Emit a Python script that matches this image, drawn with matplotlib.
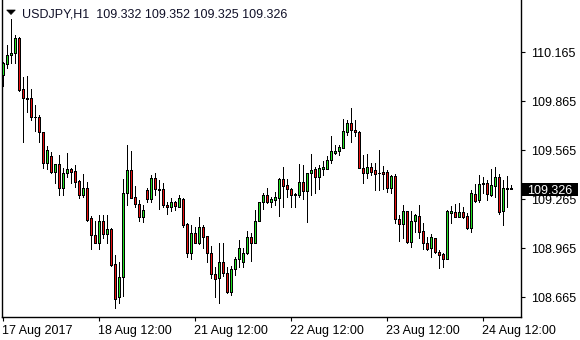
import matplotlib
matplotlib.use("Agg")
import matplotlib.pyplot as plt
from matplotlib.patches import Rectangle, Polygon
import matplotlib.transforms as mtransforms

# USDJPY H1 candles, oldest first
opens = [110.026, 110.091, 110.146, 110.159, 110.251, 109.938, 109.885, 109.883, 109.771, 109.767,
         109.679, 109.489, 109.530, 109.434, 109.479, 109.332, 109.424, 109.448, 109.436, 109.379,
         109.291, 109.332, 109.148, 109.046, 108.995, 109.130, 109.053, 109.081, 108.869, 108.665,
         108.791, 109.302, 109.444, 109.277, 109.234, 109.155, 109.322, 109.265, 109.393, 109.326,
         109.326, 109.230, 109.216, 109.251, 109.220, 109.265, 109.114, 108.934, 109.057, 108.999,
         109.097, 109.040, 108.934, 108.808, 108.781, 108.883, 108.816, 108.700, 108.836, 108.897,
         108.883, 108.938, 109.032, 108.995, 109.134, 109.247, 109.291, 109.251, 109.261, 109.271,
         109.387, 109.353, 109.326, 109.295, 109.291, 109.369, 109.318, 109.424, 109.448, 109.404,
         109.453, 109.453, 109.506, 109.551, 109.563, 109.581, 109.679, 109.730, 109.689, 109.677,
         109.455, 109.428, 109.461, 109.442, 109.426, 109.430, 109.430, 109.332, 109.408, 109.142,
         109.114, 109.191, 109.006, 109.134, 109.165, 109.071, 108.999, 108.965, 109.026, 108.944,
         108.928, 108.897, 109.183, 109.185, 109.159, 109.189, 109.163, 109.091, 109.298, 109.261,
         109.357, 109.363, 109.291, 109.349, 109.400, 109.195, 109.332, 109.332]
highs = [110.108, 110.210, 110.367, 110.271, 110.261, 110.016, 110.020, 109.940, 109.842, 109.781,
         109.679, 109.591, 109.557, 109.481, 109.536, 109.455, 109.546, 109.455, 109.475, 109.383,
         109.420, 109.373, 109.163, 109.134, 109.169, 109.169, 109.169, 109.087, 108.924, 108.883,
         109.387, 109.597, 109.563, 109.347, 109.261, 109.230, 109.332, 109.414, 109.424, 109.383,
         109.367, 109.251, 109.271, 109.255, 109.291, 109.271, 109.118, 109.108, 109.093, 109.159,
         109.108, 109.040, 108.979, 108.853, 108.999, 108.995, 108.849, 108.857, 108.914, 109.016,
         108.965, 109.073, 109.061, 109.200, 109.251, 109.302, 109.332, 109.281, 109.312, 109.393,
         109.461, 109.387, 109.332, 109.306, 109.481, 109.475, 109.428, 109.542, 109.465, 109.475,
         109.502, 109.530, 109.653, 109.597, 109.597, 109.755, 109.751, 109.822, 109.751, 109.685,
         109.536, 109.542, 109.485, 109.485, 109.567, 109.469, 109.444, 109.414, 109.420, 109.169,
         109.230, 109.193, 109.193, 109.173, 109.230, 109.118, 109.032, 109.053, 109.026, 108.955,
         108.938, 109.200, 109.224, 109.236, 109.240, 109.216, 109.183, 109.322, 109.359, 109.414,
         109.400, 109.383, 109.448, 109.465, 109.420, 109.383, 109.408, 109.352]
lows = [109.959, 110.067, 110.097, 110.102, 109.930, 109.618, 109.802, 109.751, 109.685, 109.618,
        109.455, 109.448, 109.424, 109.363, 109.291, 109.291, 109.404, 109.367, 109.342, 109.271,
        109.281, 109.134, 108.959, 108.995, 108.959, 109.026, 108.995, 108.857, 108.597, 108.628,
        108.673, 109.230, 109.271, 109.220, 109.134, 109.128, 109.251, 109.251, 109.291, 109.204,
        109.220, 109.175, 109.195, 109.200, 109.216, 109.097, 108.914, 108.897, 108.999, 108.991,
        108.965, 108.883, 108.781, 108.669, 108.632, 108.795, 108.693, 108.679, 108.802, 108.853,
        108.853, 108.930, 108.889, 108.995, 109.134, 109.204, 109.240, 109.216, 109.230, 109.163,
        109.216, 109.277, 109.216, 109.216, 109.281, 109.265, 109.128, 109.291, 109.302, 109.326,
        109.414, 109.453, 109.489, 109.542, 109.536, 109.577, 109.659, 109.618, 109.653, 109.455,
        109.363, 109.393, 109.414, 109.322, 109.322, 109.326, 109.312, 109.306, 109.122, 109.012,
        109.026, 108.999, 108.975, 109.067, 109.026, 108.959, 108.955, 108.914, 108.938, 108.842,
        108.853, 108.897, 109.118, 109.155, 109.159, 109.148, 109.085, 109.067, 109.251, 109.251,
        109.306, 109.261, 109.285, 109.277, 109.175, 109.108, 109.220, 109.325]
closes = [110.097, 110.148, 110.163, 110.251, 109.934, 109.883, 109.881, 109.771, 109.767, 109.679,
          109.489, 109.567, 109.434, 109.481, 109.332, 109.424, 109.448, 109.434, 109.373, 109.291,
          109.332, 109.138, 109.046, 108.995, 109.130, 109.053, 109.081, 108.863, 108.653, 108.791,
          109.302, 109.444, 109.271, 109.234, 109.155, 109.200, 109.265, 109.393, 109.326, 109.322,
          109.230, 109.216, 109.251, 109.224, 109.271, 109.108, 108.934, 109.057, 108.999, 109.097,
          109.036, 108.934, 108.808, 108.775, 108.883, 108.816, 108.700, 108.836, 108.897, 108.965,
          108.938, 109.032, 108.995, 109.134, 109.247, 109.291, 109.251, 109.265, 109.277, 109.387,
          109.347, 109.326, 109.291, 109.291, 109.369, 109.318, 109.424, 109.444, 109.404, 109.455,
          109.461, 109.506, 109.561, 109.561, 109.587, 109.683, 109.730, 109.689, 109.675, 109.455,
          109.428, 109.461, 109.434, 109.420, 109.424, 109.422, 109.332, 109.408, 109.142, 109.114,
          109.191, 109.006, 109.134, 109.167, 109.067, 108.999, 108.959, 109.032, 108.944, 108.924,
          108.897, 109.193, 109.193, 109.159, 109.189, 109.159, 109.091, 109.302, 109.257, 109.359,
          109.367, 109.295, 109.353, 109.400, 109.189, 109.332, 109.330, 109.326]

price_ticks = [110.165, 109.865, 109.565, 109.265, 108.965, 108.665]
date_tick_bars = [0, 24, 48, 72, 96, 120]
date_tick_labels = ["17 Aug 2017", "18 Aug 12:00", "21 Aug 12:00",
                    "22 Aug 12:00", "23 Aug 12:00", "24 Aug 12:00"]
symbol = "USDJPY,H1"

BULL = "#22e022"
BEAR = "#e81010"
FONT = "Liberation Sans"
W, H = 580, 340

fig = plt.figure(figsize=(W / 100, H / 100), dpi=100)
ax = fig.add_axes([2 / W, 1 - 316.7 / H, 519 / W, 316.7 / H])

n = len(closes)
px = 0.72  # one pixel in points
xs = list(range(n))
ax.vlines(xs, lows, highs, color="black", linewidth=px, antialiased=False, zorder=2)
bw = 0.5
for i in xs:
    o, c = opens[i], closes[i]
    col = BULL if c >= o else BEAR
    ax.add_patch(Rectangle((i - bw / 2, min(o, c)), bw, abs(c - o),
                           facecolor=col, edgecolor="black", linewidth=px,
                           antialiased=False, zorder=3))

ax.set_xlim(-0.33, 129.4)
ax.set_ylim(108.546, 110.485)

for s in ["top"]:
    ax.spines[s].set_visible(False)
for s in ["left", "right", "bottom"]:
    ax.spines[s].set_color("black")
    ax.spines[s].set_linewidth(1.0)

ax.yaxis.tick_right()
ax.set_yticks(price_ticks)
ax.set_yticklabels([f"{v:.3f}" for v in price_ticks])
ax.set_xticks(date_tick_bars)
ax.set_xticklabels(date_tick_labels, ha="left")
ax.tick_params(axis="both", direction="out", length=3, width=0.8, color="black",
               labelsize=9, labelcolor="black")
ax.tick_params(axis="y", pad=4)
ax.tick_params(axis="x", pad=3)
for lab in ax.get_xticklabels() + ax.get_yticklabels():
    lab.set_fontfamily(FONT)
# nudge date labels a pixel left
offset = mtransforms.ScaledTranslation(-1 / 100, 0, fig.dpi_scale_trans)
for lab in ax.get_xticklabels():
    lab.set_transform(lab.get_transform() + offset)

# current price marker on the price scale
last = closes[-1]
half = 6.3 * (110.485 - 108.546) / 316.7
trans = mtransforms.blended_transform_factory(ax.transAxes, ax.transData)
ax.add_patch(Rectangle((1.0 + 0.7 / 519, last - half), 56.5 / 519, 2 * half,
                       transform=trans, facecolor="black", edgecolor="none",
                       clip_on=False, zorder=10))
ax.text(1.0 + 6 / 519, last, f"{last:.3f}", transform=trans, color="white",
        fontsize=9, fontfamily=FONT, va="center_baseline", ha="left",
        clip_on=False, zorder=11)

# header: symbol and OHLC of the last bar
fig.patches.append(Polygon([(6.7 / W, 1 - 10 / H), (15.3 / W, 1 - 10 / H),
                            (11 / W, 1 - 14.5 / H)], closed=True,
                           transform=fig.transFigure, facecolor="black",
                           edgecolor="black", linewidth=0.5))
header = f"{symbol}  {opens[-1]:.3f} {highs[-1]:.3f} {lows[-1]:.3f} {closes[-1]:.3f}"
fig.text(21.5 / W, 1 - 13 / H, header, fontsize=9, fontfamily=FONT,
         color="#101028", va="center_baseline", ha="left")

fig.savefig("out.png", dpi=100, facecolor="white")
